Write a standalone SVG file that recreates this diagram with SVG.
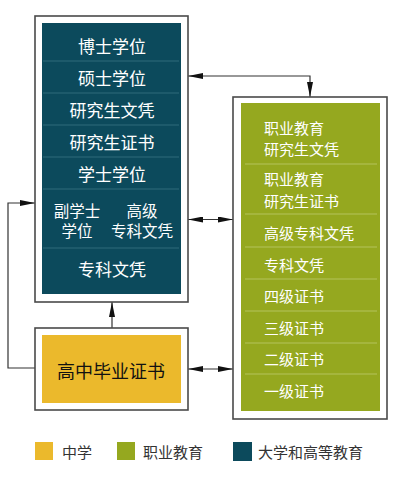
<svg xmlns="http://www.w3.org/2000/svg" width="400" height="480" viewBox="0 0 400 480">
<defs>
<marker id="ah" viewBox="0 0 15 6" refX="15" refY="3" markerWidth="15" markerHeight="6" markerUnits="userSpaceOnUse" orient="auto-start-reverse">
<path d="M0,0 L15,3 L0,6 Z" fill="#111"/>
</marker>
</defs>
<style>
.frame{fill:#fff;stroke:#4a4a4a;stroke-width:1.6}
.dark{fill:#0c4a5c}
.green{fill:#95a81f}
.yellow{fill:#ebb92c}
.ddiv{stroke:#2e6a7a;stroke-width:1}
.gdiv{stroke:#b4c35c;stroke-width:1}
.wt{font-family:"Noto Sans CJK SC","Liberation Sans",sans-serif;fill:#fff;dominant-baseline:central}
.dt{font-size:17px;text-anchor:middle}
.st{font-size:15.5px}
.gt{font-size:15px}
.conn{fill:none;stroke:#333;stroke-width:1.2}
.lg{font-family:"Noto Sans CJK SC","Liberation Sans",sans-serif;font-size:15px;fill:#333;dominant-baseline:central}
</style>
<g id="connectors">
<path class="conn" d="M36,368 H8 V203 H35" marker-end="url(#ah)"/>
<path class="conn" d="M112,328 V302" marker-end="url(#ah)"/>
<path class="conn" d="M188,76 H310 V97" marker-start="url(#ah)" marker-end="url(#ah)"/>
<path class="conn" d="M188,219.5 H233" marker-start="url(#ah)" marker-end="url(#ah)"/>
<path class="conn" d="M188,369 H233" marker-start="url(#ah)" marker-end="url(#ah)"/>
</g>
<g id="higher-education">
<rect class="frame" x="35" y="16" width="153" height="286"/>
<rect class="dark" x="42" y="23" width="139" height="271"/>
<line class="ddiv" x1="43" y1="61" x2="179" y2="61"/>
<line class="ddiv" x1="43" y1="93" x2="179" y2="93"/>
<line class="ddiv" x1="43" y1="125" x2="179" y2="125"/>
<line class="ddiv" x1="43" y1="157" x2="179" y2="157"/>
<line class="ddiv" x1="43" y1="189" x2="179" y2="189"/>
<line class="ddiv" x1="43" y1="248" x2="179" y2="248"/>
<text class="wt dt" x="112" y="45">博士学位</text>
<text class="wt dt" x="112" y="77">硕士学位</text>
<text class="wt dt" x="112" y="109">研究生文凭</text>
<text class="wt dt" x="112" y="141">研究生证书</text>
<text class="wt dt" x="112" y="173">学士学位</text>
<text class="wt dt st" x="77" y="210">副学士</text>
<text class="wt dt st" x="77" y="230">学位</text>
<text class="wt dt st" x="142" y="210">高级</text>
<text class="wt dt st" x="142" y="230">专科文凭</text>
<text class="wt dt" x="112" y="268">专科文凭</text>
</g>
<g id="high-school">
<rect class="frame" x="35" y="328" width="153" height="82"/>
<rect class="yellow" x="42" y="335" width="139" height="68"/>
<text x="111" y="370" text-anchor="middle" style="font-family:'Noto Sans CJK SC','Liberation Sans',sans-serif;font-size:18px;fill:#111;dominant-baseline:central">高中毕业证书</text>
</g>
<g id="vocational">
<rect class="frame" x="233" y="97" width="154" height="322"/>
<rect class="green" x="241" y="103" width="139" height="308"/>
<line class="gdiv" x1="245" y1="164" x2="377" y2="164"/>
<line class="gdiv" x1="245" y1="214" x2="377" y2="214"/>
<line class="gdiv" x1="245" y1="247" x2="377" y2="247"/>
<line class="gdiv" x1="245" y1="279" x2="377" y2="279"/>
<line class="gdiv" x1="245" y1="311" x2="377" y2="311"/>
<line class="gdiv" x1="245" y1="343" x2="377" y2="343"/>
<line class="gdiv" x1="245" y1="374" x2="377" y2="374"/>
<text class="wt gt" x="264" y="127">职业教育</text>
<text class="wt gt" x="264" y="148">研究生文凭</text>
<text class="wt gt" x="264" y="178">职业教育</text>
<text class="wt gt" x="264" y="200">研究生证书</text>
<text class="wt gt" x="264" y="232">高级专科文凭</text>
<text class="wt gt" x="264" y="264">专科文凭</text>
<text class="wt gt" x="264" y="295">四级证书</text>
<text class="wt gt" x="264" y="327">三级证书</text>
<text class="wt gt" x="264" y="358">二级证书</text>
<text class="wt gt" x="264" y="390">一级证书</text>
</g>
<g id="legend">
<rect class="yellow" x="35" y="442" width="18" height="18"/>
<text class="lg" x="62" y="451">中学</text>
<rect class="green" x="117" y="442" width="18" height="18"/>
<text class="lg" x="143" y="451">职业教育</text>
<rect class="dark" x="233" y="442" width="19" height="19"/>
<text class="lg" x="258" y="451">大学和高等教育</text>
</g>
</svg>
